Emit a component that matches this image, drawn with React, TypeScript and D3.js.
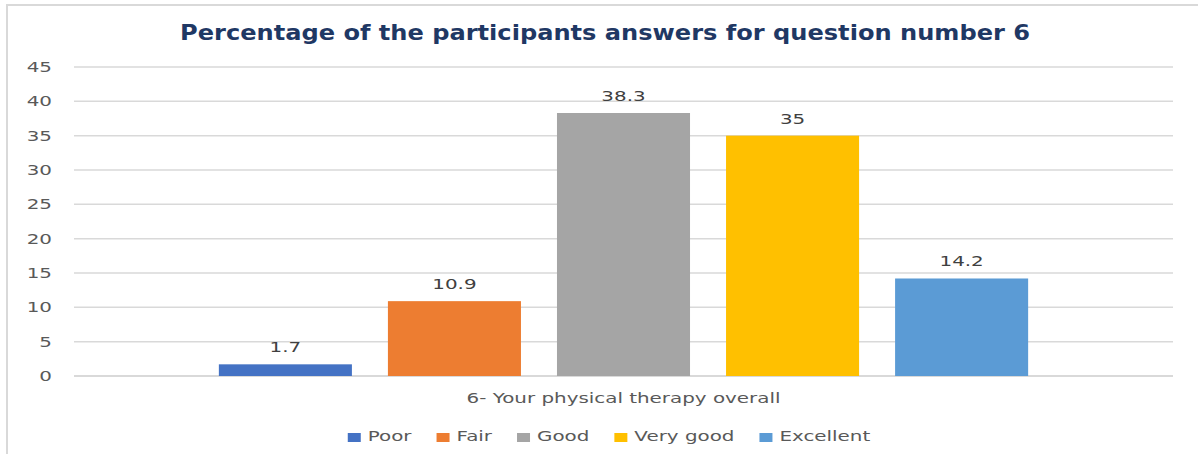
import React, { useRef, useEffect } from "react";
import { select, scaleBand, scaleLinear, range } from "d3";

const title = "Percentage of the participants answers for question number 6";
const categories = ["6- Your physical therapy overall"];
const seriesNames = ["Poor", "Fair", "Good", "Very good", "Excellent"];
const seriesValues = [1.7, 10.9, 38.3, 35, 14.2];
const seriesColors = ["#4472C4", "#ED7D31", "#A5A5A5", "#FFC000", "#5B9BD5"];
const yTicks = range(0, 50, 5);

export default function App() {
  const svgRef = useRef<SVGSVGElement>(null);

  useEffect(() => {
    const svg = select(svgRef.current);
    svg.selectAll("*").remove();

    const width = 1198;
    const height = 454;
    const margin = { top: 67, right: 25, bottom: 78, left: 74 };
    const font = "'DejaVu Sans', sans-serif";
    const stretch = 1.42; // the source picture is stretched sideways
    const fontSize = 14;

    // frame (only top + left edges visible in the crop)
    svg.append("path")
      .attr("d", `M7,${height} V5 H${width}`)
      .attr("fill", "none")
      .attr("stroke", "#d9d9d9")
      .attr("stroke-width", 2);

    svg.append("text")
      .attr("x", 605)
      .attr("y", 40)
      .attr("text-anchor", "middle")
      .attr("font-family", font)
      .attr("font-weight", "bold")
      .attr("font-size", 21)
      .attr("fill", "#1F3864")
      .attr("textLength", 850)
      .attr("lengthAdjust", "spacingAndGlyphs")
      .text(title);

    const yScale = scaleLinear()
      .domain([0, 45])
      .range([height - margin.bottom, margin.top]);

    const x0 = scaleBand()
      .domain(categories)
      .range([margin.left, width - margin.right])
      .paddingInner(0)
      .paddingOuter(0.179);

    const x1 = scaleBand()
      .domain(seriesNames)
      .range([0, x0.bandwidth()])
      .paddingInner(0.213)
      .paddingOuter(0);

    // gridlines + y labels
    const grid = svg.append("g");
    grid.selectAll("line")
      .data(yTicks)
      .join("line")
      .attr("x1", margin.left)
      .attr("x2", width - margin.right)
      .attr("y1", d => yScale(d))
      .attr("y2", d => yScale(d))
      .attr("stroke", "#d9d9d9")
      .attr("stroke-width", d => (d === 0 ? 2 : 1.5));

    grid.selectAll("text")
      .data(yTicks)
      .join("text")
      .attr("transform", d => `translate(52,${yScale(d) + 5}) scale(${stretch},1)`)
      .attr("text-anchor", "end")
      .attr("font-family", font)
      .attr("font-size", fontSize)
      .attr("fill", "#595959")
      .text(d => d);

    const data = seriesNames.map((name, i) => ({
      name,
      value: seriesValues[i],
      color: seriesColors[i],
    }));

    const group = svg.append("g")
      .attr("transform", `translate(${x0(categories[0])},0)`);

    group.selectAll("rect")
      .data(data)
      .join("rect")
      .attr("x", d => x1(d.name)!)
      .attr("y", d => yScale(d.value))
      .attr("width", x1.bandwidth())
      .attr("height", d => yScale(0) - yScale(d.value))
      .attr("fill", d => d.color);

    group.selectAll("text")
      .data(data)
      .join("text")
      .attr("transform", d =>
        `translate(${x1(d.name)! + x1.bandwidth() / 2},${yScale(d.value) - 12}) scale(${stretch},1)`)
      .attr("text-anchor", "middle")
      .attr("font-family", font)
      .attr("font-size", fontSize)
      .attr("fill", "#404040")
      .text(d => d.value);

    // category label
    svg.append("text")
      .attr("transform",
        `translate(${x0(categories[0])! + x0.bandwidth() / 2},403) scale(${stretch},1)`)
      .attr("text-anchor", "middle")
      .attr("font-family", font)
      .attr("font-size", fontSize)
      .attr("fill", "#595959")
      .text(categories[0]);

    // legend, laid out from measured label widths
    const legend = svg.append("g");
    const items = legend.selectAll("g")
      .data(data)
      .join("g");
    items.append("rect")
      .attr("x", 0)
      .attr("y", -8)
      .attr("width", 13)
      .attr("height", 9)
      .attr("fill", d => d.color);
    items.append("text")
      .attr("transform", `translate(20,0) scale(${stretch},1)`)
      .attr("font-family", font)
      .attr("font-size", fontSize)
      .attr("fill", "#595959")
      .text(d => d.name);

    const widths: number[] = [];
    items.each(function () {
      const t = select(this).select("text").node() as SVGTextElement;
      widths.push(20 + t.getComputedTextLength() * stretch);
    });
    const gap = 25;
    const total = widths.reduce((a, b) => a + b, 0) + gap * (widths.length - 1);
    let cursor = 609 - total / 2;
    const offsets = widths.map(w => {
      const o = cursor;
      cursor += w + gap;
      return o;
    });
    items.attr("transform", (d, i) => `translate(${offsets[i]},441)`);
  }, []);

  return (
    <svg
      ref={svgRef}
      width="1198"
      height="454"
      style={{ position: "absolute", left: 0, top: 0, background: "#fff" }}
    />
  );
}
